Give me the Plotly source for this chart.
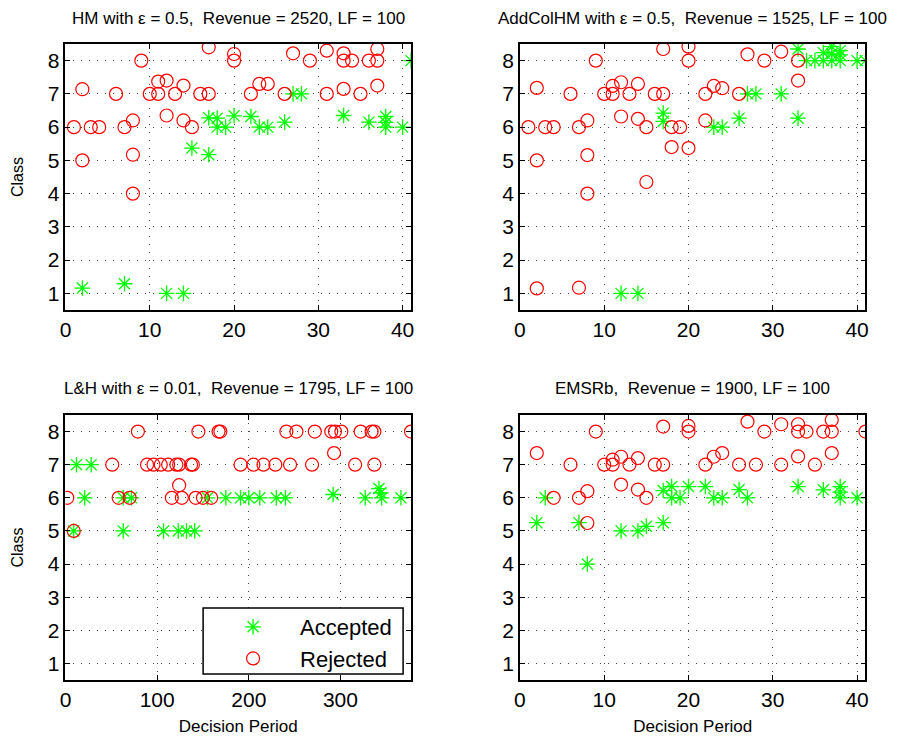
import plotly.graph_objects as go

# ---------------- data ----------------
titles = [
    "HM with ε = 0.5,  Revenue = 2520, LF = 100",
    "AddColHM with ε = 0.5,  Revenue = 1525, LF = 100",
    "L&H with ε = 0.01,  Revenue = 1795, LF = 100",
    "EMSRb,  Revenue = 1900, LF = 100",
]

# HM
hm_acc_x = [2, 7, 12, 14, 15, 17, 17, 18, 18, 19, 20, 22, 23, 24, 26, 27, 28, 33, 36, 38, 38, 38, 40, 41]
hm_acc_y = [1.16, 1.29, 1.0, 1.0, 5.37, 5.17, 6.28, 6.27, 6.0, 6.0, 6.34, 6.32, 6.0, 6.0, 6.15, 7.0, 7.0, 6.35, 6.15, 6.32, 6.14, 6.0, 6.0, 8.0]
hm_rej_x = [1, 2, 2, 3, 4, 6, 7, 8, 8, 8, 9, 10, 11, 11, 12, 12, 13, 14, 14, 15, 16, 17, 17, 20, 20,
            22, 23, 24, 26, 27, 29, 31, 31, 33, 33, 33, 34, 35, 36, 37, 37, 37]
hm_rej_y = [6.0, 7.14, 5.0, 6.0, 6.0, 7.0, 6.0, 6.2, 5.17, 4.0, 8.0, 7.0, 7.37, 7.0, 7.4, 6.35, 7.0, 7.25, 6.2, 6.0, 7.0, 7.0, 8.4, 8.2, 8.0,
            7.0, 7.3, 7.3, 7.0, 8.22, 8.0, 8.3, 7.0, 8.22, 8.0, 7.15, 8.0, 7.0, 8.0, 8.35, 8.0, 7.25]

# AddColHM
ac_acc_x = [12, 14, 17, 17, 23, 24, 26, 27, 28, 31, 33, 33, 34, 35, 36, 36, 37, 37, 37, 38, 38, 38, 40, 41]
ac_acc_y = [1.0, 1.0, 6.42, 6.17, 6.0, 6.0, 6.27, 7.0, 7.0, 7.0, 6.27, 8.35, 8.0, 8.0, 8.0, 8.24, 8.42, 8.2, 8.0, 8.3, 8.17, 8.0, 8.0, 8.0]
ac_rej_x = [1, 2, 2, 2, 3, 4, 6, 7, 7, 8, 8, 8, 9, 10, 11, 11, 12, 12, 13, 14, 14, 15, 15, 16, 17, 17,
            18, 18, 19, 20, 20, 20, 22, 22, 23, 24, 26, 27, 29, 31, 33, 33]
ac_rej_y = [6.0, 7.18, 5.0, 1.15, 6.0, 6.0, 7.0, 6.0, 1.17, 6.2, 5.16, 4.0, 8.0, 7.0, 7.24, 7.0, 7.35, 6.32, 7.0, 7.3, 6.25, 6.0, 4.35, 7.0, 7.0, 8.35,
            6.0, 5.4, 6.0, 8.42, 8.0, 5.37, 7.0, 6.2, 7.24, 7.17, 7.0, 8.19, 8.0, 8.27, 8.0, 7.4]

# L&H
lh_acc_x = [9, 12, 21, 28, 63, 63, 72, 107, 123, 132, 141, 155, 175, 191, 200, 212, 230, 240, 292, 327, 342, 344, 345, 366]
lh_acc_y = [5.0, 7.0, 6.0, 7.0, 6.0, 5.0, 6.0, 5.0, 5.0, 5.0, 5.0, 6.0, 6.0, 6.0, 6.0, 6.0, 6.0, 6.0, 6.1, 6.0, 6.28, 6.15, 6.0, 6.0]
lh_rej_x = [2, 9, 51, 58, 70, 79, 89, 96, 104, 112, 116, 121, 124, 124, 127, 137, 139, 142, 145, 150, 159, 167, 169,
            191, 205, 216, 229, 241, 245, 252, 269, 272, 290, 293, 294, 301, 316, 322, 334, 337, 337, 377]
lh_rej_y = [6.0, 5.0, 7.0, 6.0, 6.0, 8.0, 7.0, 7.0, 7.0, 7.0, 6.0, 7.0, 7.0, 6.38, 6.0, 7.0, 7.0, 6.0, 8.0, 6.0, 6.0, 8.0, 8.0,
            7.0, 7.0, 7.0, 7.0, 8.0, 7.0, 8.0, 7.0, 8.0, 8.0, 7.35, 8.0, 8.0, 7.0, 8.0, 8.0, 8.0, 7.0, 8.0]

# EMSRb
em_acc_x = [2, 3, 7, 8, 12, 14, 15, 17, 17, 18, 18, 19, 20, 22, 23, 24, 26, 27, 33, 36, 38, 38, 38, 40]
em_acc_y = [5.25, 6.0, 5.25, 4.0, 5.0, 5.0, 5.14, 5.25, 6.22, 6.34, 6.0, 6.0, 6.34, 6.34, 6.0, 6.0, 6.25, 6.0, 6.34, 6.24, 6.34, 6.17, 6.0, 6.0]
em_rej_x = [2, 4, 6, 7, 8, 8, 9, 10, 11, 11, 12, 12, 13, 14, 14, 15, 16, 17, 17, 20, 20,
            22, 23, 24, 26, 27, 28, 29, 31, 31, 33, 33, 33, 34, 35, 36, 37, 37, 37, 41]
em_rej_y = [7.35, 6.0, 7.0, 6.0, 6.2, 5.24, 8.0, 7.0, 7.15, 7.0, 7.24, 6.4, 7.0, 7.2, 6.25, 6.0, 7.0, 7.0, 8.15, 8.17, 8.0,
            7.0, 7.24, 7.35, 7.0, 8.3, 7.0, 8.0, 8.22, 7.0, 8.22, 8.0, 7.25, 8.0, 7.0, 8.0, 8.35, 8.0, 7.35, 8.0]

y_ticks = [1, 2, 3, 4, 5, 6, 7, 8]
x_ranges = [[0, 41], [0, 41], [0, 377], [0, 41]]
x_dticks = [10, 10, 100, 10]

panels = [
    (hm_acc_x, hm_acc_y, hm_rej_x, hm_rej_y),
    (ac_acc_x, ac_acc_y, ac_rej_x, ac_rej_y),
    (lh_acc_x, lh_acc_y, lh_rej_x, lh_rej_y),
    (em_acc_x, em_acc_y, em_rej_x, em_rej_y),
]

# ---------------- layout geometry ----------------
# page body has an 8px default margin, so the figure is offset by (8, 8)
OFF = 8
W, H = 917 - OFF, 737 - OFF
FONT = "Liberation Sans, Arial, Helvetica, sans-serif"
boxes_page = [  # left, right, top, bottom in page px
    (60, 409, 44, 310),
    (519, 868, 44, 310),
    (60, 409, 415, 680),
    (519, 868, 415, 680),
]
boxes = [(l - OFF, r - OFF, t - OFF, b - OFF) for (l, r, t, b) in boxes_page]


def px_x(p):
    return (p - OFF) / W


def px_y(p):
    return 1 - (p - OFF) / H


fig = go.Figure()
GREEN = "#00ff00"
RED = "#ff0000"

for i, (ax, ay, rx, ry) in enumerate(panels):
    n = "" if i == 0 else str(i + 1)
    fig.add_trace(go.Scatter(
        x=ax, y=ay, mode="markers", name="Accepted", legendgroup="acc",
        showlegend=(i == 2), xaxis="x" + n, yaxis="y" + n,
        marker=dict(symbol="asterisk-open", size=13, color=GREEN,
                    line=dict(color=GREEN, width=1.3)),
    ))
    fig.add_trace(go.Scatter(
        x=rx, y=ry, mode="markers", name="Rejected", legendgroup="rej",
        showlegend=(i == 2), xaxis="x" + n, yaxis="y" + n,
        marker=dict(symbol="circle-open", size=13, color=RED,
                    line=dict(color=RED, width=1.2)),
    ))

layout = dict(
    width=W, height=H,
    margin=dict(l=0, r=0, t=0, b=0),
    paper_bgcolor="white", plot_bgcolor="white",
    font=dict(family=FONT, color="black"),
    showlegend=True,
)

annotations = []
for i, (l, r, t, b) in enumerate(boxes):
    n = "" if i == 0 else str(i + 1)
    xd = [l / W, r / W]
    yd = [1 - b / H, 1 - t / H]
    grid = dict(showgrid=True, gridcolor="#444444", griddash="1px,7px", gridwidth=1)
    xa = dict(domain=xd, range=x_ranges[i], dtick=x_dticks[i], tick0=0,
              anchor="y" + n, showline=True, linecolor="black", linewidth=1.5,
              mirror="ticks", ticks="inside", ticklen=5, tickcolor="black",
              tickfont=dict(size=21), zeroline=False, **grid)
    ya = dict(domain=yd, range=[0.5, 8.5], tickvals=y_ticks,
              anchor="x" + n, showline=True, linecolor="black", linewidth=1.5,
              mirror="ticks", ticks="inside", ticklen=5, tickcolor="black",
              tickfont=dict(size=21), zeroline=False, **grid)
    if i >= 2:
        xa["title"] = dict(text="Decision Period", font=dict(size=17), standoff=10)
    if i in (0, 2):
        ya["title"] = dict(text="Class", font=dict(size=16), standoff=20)
    layout["xaxis" + n] = xa
    layout["yaxis" + n] = ya
    annotations.append(dict(
        text=titles[i], xref="paper", yref="paper",
        x=(l + r) / 2 / W, y=1 - (t - 26) / H, xanchor="center", yanchor="middle",
        showarrow=False, font=dict(size=17),
    ))

layout["annotations"] = annotations
layout["shapes"] = [dict(
    type="rect", xref="paper", yref="paper",
    x0=px_x(199), x1=px_x(401), y0=px_y(674), y1=px_y(608),
    line=dict(color="black", width=1.5), fillcolor="white", layer="above",
)]
layout["legend"] = dict(
    x=px_x(202), y=px_y(606), xanchor="left", yanchor="top",
    bgcolor="rgba(0,0,0,0)", borderwidth=0, itemwidth=84,
    font=dict(size=22), tracegroupgap=0,
)

fig.update_layout(**layout)
fig.write_html("out.html")
